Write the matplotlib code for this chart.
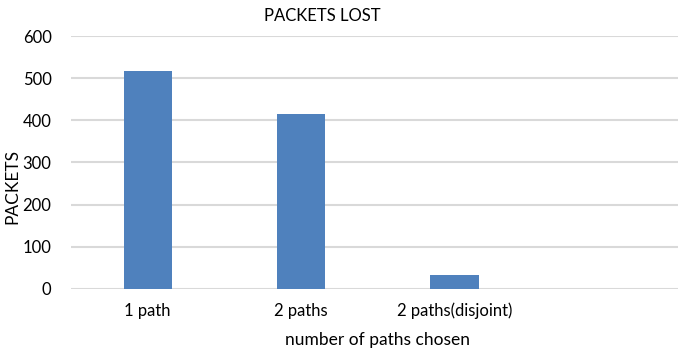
import numpy as np
import matplotlib
matplotlib.use("Agg")
import matplotlib.pyplot as plt

plt.rcParams['font.family'] = ['Lato', 'DejaVu Sans']

# packets lost per routing setup
categories = ['1 path', '2 paths', '2 paths(disjoint)', '']
packets = [517, 415, 33, 0]
yticks = [0, 100, 200, 300, 400, 500, 600]

fig = plt.figure(figsize=(6.78, 3.51), dpi=100)
ax = fig.add_axes([0.1047, 0.1775, 0.905, 0.7191])

x = np.arange(len(categories))
ax.bar(x[:3], packets[:3], width=0.315, color='#4f81bd', zorder=3)

ax.set_xlim(-0.5, 3.5)
ax.set_ylim(0, 600)
ax.set_yticks(yticks)
ax.set_xticks(x)
ax.set_xticklabels(categories, fontsize=12)
ax.tick_params(axis='y', labelsize=12, length=0, pad=14)
ax.tick_params(axis='x', length=0, pad=10)
ax.grid(axis='y', color='#d9d9d9', linewidth=1.5, zorder=0)
for s in ax.spines.values():
    s.set_visible(False)

fig.text(0.018, 0.47, 'PACKETS', rotation=90, ha='center', va='center', fontsize=12.5)
ax.set_xlabel('number of paths chosen', fontsize=12.5, labelpad=9)
fig.text(0.476, 0.955, 'PACKETS LOST', ha='center', va='center', fontsize=12)

fig.savefig('out.png', dpi=100)
